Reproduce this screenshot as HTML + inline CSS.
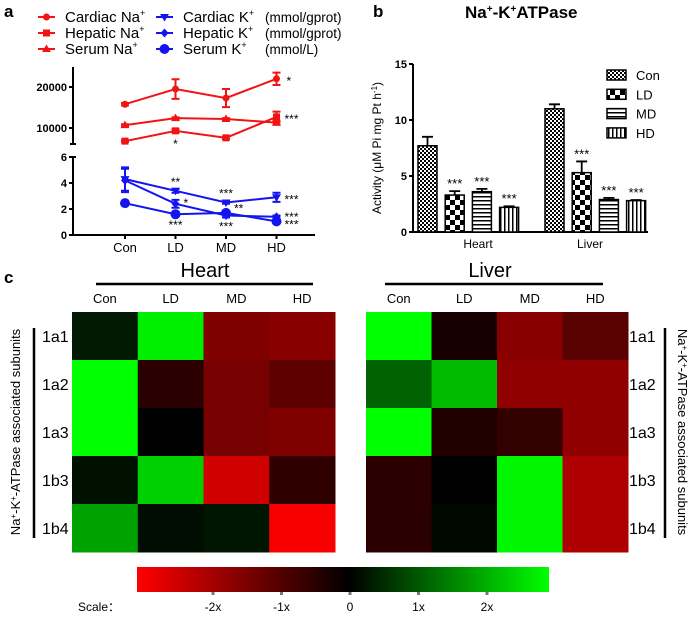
<!DOCTYPE html>
<html><head><meta charset="utf-8"><style>
body{margin:0;background:#fff;}
svg{display:block;font-family:"Liberation Sans",Arial,sans-serif;}
</style></head><body>
<svg id="fig" width="700" height="619" viewBox="0 0 700 619" xmlns="http://www.w3.org/2000/svg">
<defs>
<pattern id="pCon" width="4" height="4" patternUnits="userSpaceOnUse"><rect width="4" height="4" fill="#fff"/><rect width="2" height="2" fill="#000"/><rect x="2" y="2" width="2" height="2" fill="#000"/></pattern>
<pattern id="pLD" width="10" height="10" patternUnits="userSpaceOnUse"><rect width="10" height="10" fill="#fff"/><rect width="5" height="5" fill="#000"/><rect x="5" y="5" width="5" height="5" fill="#000"/></pattern>
<pattern id="pMD" width="4" height="4" patternUnits="userSpaceOnUse"><rect width="4" height="4" fill="#fff"/><rect width="4" height="1.5" fill="#000"/></pattern>
<pattern id="pHD" width="4" height="4" patternUnits="userSpaceOnUse"><rect width="4" height="4" fill="#fff"/><rect width="1.5" height="4" fill="#000"/></pattern>
<linearGradient id="scaleGrad" x1="0" x2="1" y1="0" y2="0">
<stop offset="0" stop-color="#ff0000"/><stop offset="0.516" stop-color="#000"/><stop offset="1" stop-color="#00ff00"/></linearGradient>
</defs>
<g id="pa"></g><g id="pb"></g><g id="pc"></g>
</svg>
<script>
// ---- Panel a data ----
const aCats = ["Con","LD","MD","HD"];
const cardNa = [15800,19500,17300,22000];
const cardNaErr = [300,2400,2200,1500];
const hepNa = [6800,9300,7600,12700];
const hepNaErr = [200,400,300,1300];
const serNa = [10700,12400,12200,11300];
const serNaErr = [200,200,200,500];
const cardK = [4.3,3.4,2.5,2.9];
const cardKErr = [0.9,0.15,0.1,0.35];
const hepK = [4.2,2.4,1.5,1.4];
const hepKErr = [0.9,0.3,0.15,0.1];
const serK = [2.45,1.6,1.7,1.05];
const serKErr = [0.1,0.1,0.1,0.1];
const upTicks = [10000,20000];
const loTicks = [0,2,4,6];
// ---- Panel b data ----
const bGroups = ["Heart","Liver"];
const bSeries = ["Con","LD","MD","HD"];
const heartAct = [7.7,3.3,3.6,2.2];
const heartErr = [0.8,0.35,0.25,0.1];
const liverAct = [11.0,5.3,2.9,2.8];
const liverErr = [0.4,1.0,0.15,0.05];
const bTicks = [0,5,10,15];
// ---- Panel c data ----
const hmCols = ["Con","LD","MD","HD"];
const hmRows = ["1a1","1a2","1a3","1b3","1b4"];
const heartHM = [[0.3,2.8,-1.5,-1.6],[3,-0.5,-1.4,-1.1],[3,0,-1.4,-1.5],[0.2,2.45,-2.45,-0.55],[1.9,0.15,0.25,-2.9]];
const liverHM = [[3,-0.3,-1.6,-1.05],[1.15,2.2,-1.7,-1.7],[3,-0.4,-0.6,-1.7],[-0.5,0,2.9,-2.05],[-0.5,0.1,2.9,-2.05]];
const scaleTicks = [-2,-1,0,1,2];
const scaleLabels = ["-2x","-1x","0","1x","2x"];

const NS="http://www.w3.org/2000/svg";
function mk(parent,tag,attrs,text){const e=document.createElementNS(NS,tag);for(const k in attrs)e.setAttribute(k,attrs[k]);if(text!==undefined)e.textContent=text;parent.appendChild(e);return e;}

// ===== Panel a =====
const pa=document.getElementById('pa');
const ax=i=>125+i*50.5;
const yUp=v=>87-(v-20000)/10000*41;
const yLo=v=>235-v*13;
let t=mk(pa,'text',{x:4,y:17,'font-size':17,'font-weight':'bold'},'a');

let l=mk(pa,'path',{d:'M73,67V144 M73,157V235 H315',stroke:'#000','stroke-width':2,fill:'none'});

mk(pa,'path',{d:'M70,144H76 M70,157H76',stroke:'#000','stroke-width':2});
upTicks.forEach(v=>{mk(pa,'line',{x1:69,x2:73,y1:yUp(v),y2:yUp(v),stroke:'#000','stroke-width':2});
 const tt=mk(pa,'text',{x:67,y:yUp(v)+4,'font-size':11,'font-weight':'bold','text-anchor':'end'},String(v));
 });
loTicks.forEach(v=>{mk(pa,'line',{x1:69,x2:73,y1:yLo(v),y2:yLo(v),stroke:'#000','stroke-width':2});
 const tt=mk(pa,'text',{x:67,y:yLo(v)+4,'font-size':11,'font-weight':'bold','text-anchor':'end'},String(v));
 });
aCats.forEach((c,i)=>{mk(pa,'line',{x1:ax(i),x2:ax(i),y1:235,y2:239,stroke:'#000','stroke-width':2});
 const tt=mk(pa,'text',{x:ax(i),y:252,'font-size':13,'text-anchor':'middle'},c);
 });
function marker(g,shape,x,y,col){
 if(shape==='circle')return mk(g,'circle',{cx:x,cy:y,r:3.5,fill:col});
 if(shape==='bigcircle')return mk(g,'circle',{cx:x,cy:y,r:5,fill:col});
 if(shape==='square')return mk(g,'rect',{x:x-3.5,y:y-3.5,width:7,height:7,fill:col});
 if(shape==='tri')return mk(g,'path',{d:`M${x},${y-4.5}L${x+4.5},${y+3}L${x-4.5},${y+3}Z`,fill:col});
 if(shape==='tridown')return mk(g,'path',{d:`M${x},${y+4.5}L${x+4.5},${y-3}L${x-4.5},${y-3}Z`,fill:col});
 if(shape==='diamond')return mk(g,'path',{d:`M${x},${y-4.5}L${x+4},${y}L${x},${y+4.5}L${x-4},${y}Z`,fill:col});
}
function series(name,vals,errs,yf,col,shape){
 const g=mk(pa,'g',{});
 mk(g,'polyline',{points:vals.map((v,i)=>ax(i)+','+yf(v)).join(' '),fill:'none',stroke:col,'stroke-width':2});
 vals.forEach((v,i)=>{const x=ax(i),y1=yf(v+errs[i]),y2=yf(v-errs[i]);
  mk(g,'path',{d:`M${x},${y1}V${y2} M${x-4},${y1}H${x+4} M${x-4},${y2}H${x+4}`,stroke:col,'stroke-width':2});
  const m=marker(g,shape,x,yf(v),col);});
}
const R='#f21414',B='#1414f0';
series('cardiac-na',cardNa,cardNaErr,yUp,R,'circle');
series('serum-na',serNa,serNaErr,yUp,R,'tri');
series('hepatic-na',hepNa,hepNaErr,yUp,R,'square');
series('cardiac-k',cardK,cardKErr,yLo,B,'tridown');
series('hepatic-k',hepK,hepKErr,yLo,B,'diamond');
series('serum-k',serK,serKErr,yLo,B,'bigcircle');
function star(x,y,s,anchor){const tt=mk(pa,'text',{x:x,y:y,'font-size':12,'text-anchor':anchor||'middle'},s);}
star(ax(3)+10,yUp(cardNa[3])+6,'*','start');
star(ax(1),yUp(hepNa[1])+17,'*');
star(ax(3)+8,yUp(hepNa[3])+6,'***','start');
star(ax(1),yLo(cardK[1])-5,'**');
star(ax(1)+8,yLo(hepK[1])+3,'*','start');
star(ax(1),yLo(serK[1])+15,'***');
star(ax(2),yLo(cardK[2])-5,'***');
star(ax(2)+8,yLo(hepK[2])-3,'**','start');
star(ax(2),yLo(hepK[2])+15,'***');
star(ax(3)+8,yLo(cardK[3])+6,'***','start');
star(ax(3)+8,yLo(hepK[3])+4,'***','start');
star(ax(3)+8,yLo(serK[3])+7,'***','start');
const legA=[["Cardiac Na","circle",R,38,17,""],["Hepatic Na","square",R,38,33,""],["Serum Na","tri",R,38,49,""],
 ["Cardiac K","tridown",B,156,17,"(mmol/gprot)"],["Hepatic K","diamond",B,156,33,"(mmol/gprot)"],["Serum K","bigcircle",B,156,49,"(mmol/L)"]];
legA.forEach(e=>{const g=mk(pa,'g',{});
 mk(g,'line',{x1:e[3],x2:e[3]+17,y1:e[4],y2:e[4],stroke:e[2],'stroke-width':2});marker(g,e[1],e[3]+8.5,e[4],e[2]);
 const tt=mk(g,'text',{x:e[3]+27,y:e[4]+5,'font-size':15},e[0]);mk(tt,'tspan',{dy:-6,'font-size':9},'+');
 if(e[5])mk(g,'text',{x:265,y:e[4]+5,'font-size':13.5},e[5]);});

// ===== Panel b =====
const pb=document.getElementById('pb');
const by=v=>232-v*11.2;
t=mk(pb,'text',{x:373,y:17,'font-size':17,'font-weight':'bold'},'b');
t=mk(pb,'text',{x:465,y:18,'font-size':17,'font-weight':'bold'});
t.innerHTML='Na<tspan dy="-6" font-size="10">+</tspan><tspan dy="6">-K</tspan><tspan dy="-6" font-size="10">+</tspan><tspan dy="6">ATPase</tspan>';
l=mk(pb,'path',{d:'M413,64V232H648',stroke:'#000','stroke-width':2,fill:'none'});
bTicks.forEach(v=>{mk(pb,'line',{x1:409,x2:413,y1:by(v),y2:by(v),stroke:'#000','stroke-width':2});
 const tt=mk(pb,'text',{x:407,y:by(v)+4,'font-size':11,'font-weight':'bold','text-anchor':'end'},String(v));});
t=mk(pb,'text',{transform:'translate(381,148) rotate(-90)','font-size':12,'text-anchor':'middle'});
t.innerHTML='Activity (μM Pi mg Pt h<tspan dy="-4" font-size="8">-1</tspan><tspan dy="4">)</tspan>';
const pats=['pCon','pLD','pMD','pHD'];
[heartAct,liverAct].forEach((arr,gi)=>{const errs=gi?liverErr:heartErr;
 arr.forEach((v,i)=>{const x=418+gi*127+i*27.2;
  const r=mk(pb,'rect',{x:x,y:by(v),width:19,height:232-by(v),fill:'url(#'+pats[i]+')',stroke:'#000','stroke-width':1.5});
  
  const ye=by(v+errs[i]);mk(pb,'path',{d:`M${x+9.5},${by(v)}V${ye} M${x+4},${ye}H${x+15}`,stroke:'#000','stroke-width':1.8});
  if(i>0){const tt=mk(pb,'text',{x:x+9.5,y:ye-3,'font-size':13,'text-anchor':'middle'},'***');}
 });
 const tt=mk(pb,'text',{x:[478,590][gi],y:248,'font-size':12,'text-anchor':'middle'},bGroups[gi]);
});
bSeries.forEach((s,i)=>{const g=mk(pb,'g',{});
 mk(g,'rect',{x:607,y:70+i*19.3,width:19,height:10,fill:'url(#'+pats[i]+')',stroke:'#000','stroke-width':1.5});
 mk(g,'text',{x:636,y:80+i*19.3,'font-size':13},s);});

// ===== Panel c =====
const pc=document.getElementById('pc');
t=mk(pc,'text',{x:4,y:283,'font-size':17,'font-weight':'bold'},'c');
function col(v){const a=Math.min(1,Math.abs(v)/3);const c=Math.round(a*255);return v<0?`rgb(${c},0,0)`:`rgb(0,${c},0)`;}
function heat(name,data,x0,title,tcx,l1,l2,rowX,barX,labX,rot){
 const cw=(x0===72?263:262)/4,ch=48;
 const tt=mk(pc,'text',{x:tcx,y:277,'font-size':20,'text-anchor':'middle'},title);
 mk(pc,'line',{x1:l1,x2:l2,y1:284,y2:284,stroke:'#000','stroke-width':2.5});
 hmCols.forEach((c,j)=>{const e=mk(pc,'text',{x:x0+cw*(j+0.5),y:303,'font-size':13,'text-anchor':'middle'},c);});
 data.forEach((row,i)=>{row.forEach((v,j)=>{const r=mk(pc,'rect',{x:x0+j*cw,y:312+i*ch,width:cw+0.5,height:ch+0.5,fill:col(v)});
   });
  const e=mk(pc,'text',{x:rowX,y:312+i*ch+30,'font-size':16},hmRows[i]);});
 mk(pc,'line',{x1:barX,x2:barX,y1:328,y2:538,stroke:'#000','stroke-width':2.5});
 const a=mk(pc,'text',{transform:`translate(${labX},432) rotate(${rot})`,'font-size':13,'text-anchor':'middle'});
 
 a.innerHTML='Na<tspan dy="-4" font-size="8">+</tspan><tspan dy="4">-K</tspan><tspan dy="-4" font-size="8">+</tspan><tspan dy="4">-ATPase associated subunits</tspan>';
}
heat('heart-heatmap',heartHM,72,'Heart',205,96,313,42,34,20,-90);
heat('liver-heatmap',liverHM,366,'Liver',490,385,603,629,665,678,90);
const sx=v=>350+v*68.5;
const sb=mk(pc,'rect',{x:137,y:567,width:412,height:25,fill:'url(#scaleGrad)'});
t=mk(pc,'text',{x:78,y:611,'font-size':12},'Scale：');
scaleTicks.forEach((v,i)=>{mk(pc,'rect',{x:sx(v)-1.5,y:592,width:3,height:3,fill:'#777'});
 const e=mk(pc,'text',{x:sx(v),y:611,'font-size':12,'text-anchor':'middle'},scaleLabels[i]);});
</script>
</body></html>
